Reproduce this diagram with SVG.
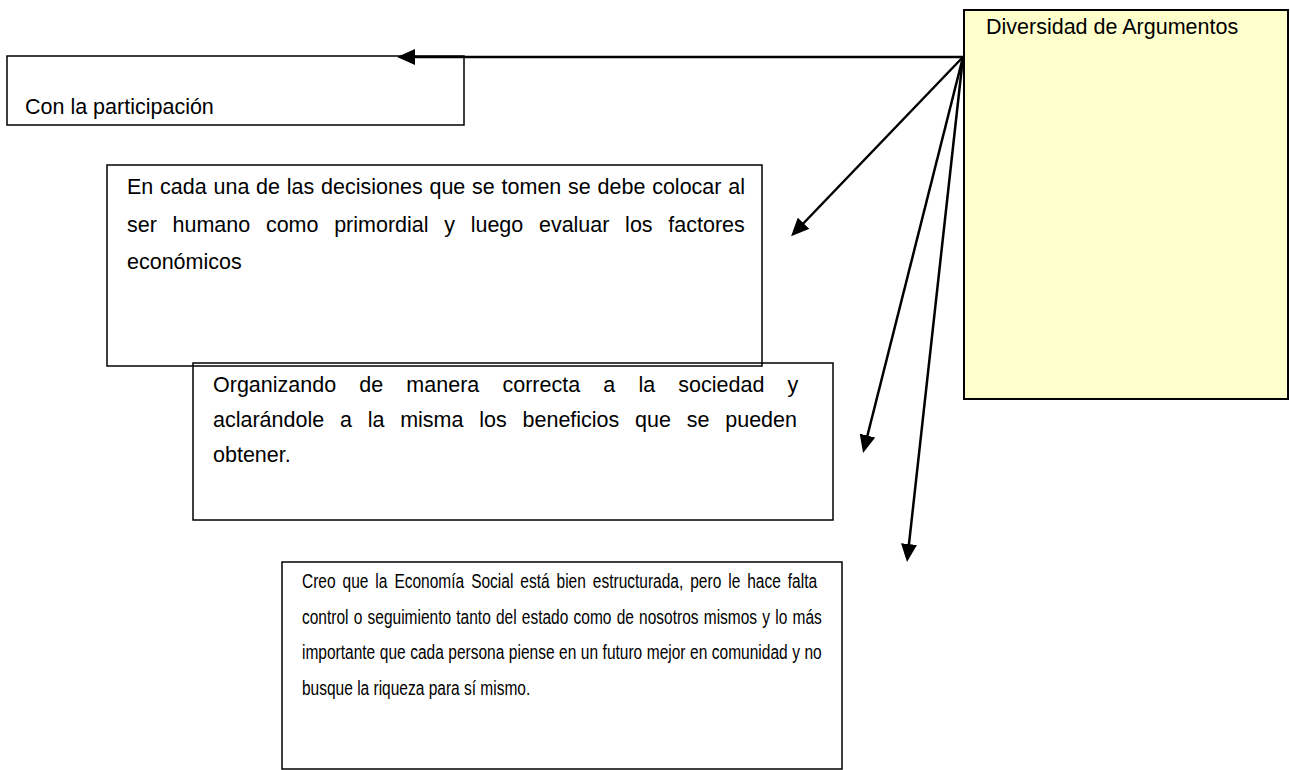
<svg xmlns="http://www.w3.org/2000/svg" width="1290" height="770" viewBox="0 0 1290 770">
<style>
.box{fill:none;stroke:#000;stroke-width:1.5}
.t{font-family:"Liberation Sans",Arial,sans-serif;font-size:21.5px;fill:#000}
.s{font-family:"Liberation Sans",Arial,sans-serif;font-size:19.5px;fill:#000}
.c{fill:none;stroke:#000;stroke-width:2.5}
</style>
<defs>
<marker id="ah" markerUnits="userSpaceOnUse" markerWidth="18" markerHeight="16" refX="8" refY="8" orient="auto" viewBox="0 0 18 16">
<path d="M0,0 L18,8 L0,16 z" fill="#000"/>
</marker>
</defs>
<rect width="1290" height="770" fill="#fff"/>
<g id="n-con">
<rect class="box" x="7" y="56" width="457" height="69"/>
<text class="t" x="25" y="114">Con la participación</text>
</g>
<g id="n-decisiones">
<rect class="box" x="107" y="165" width="655" height="201"/>
<text class="t" x="127" y="194" word-spacing="0.8">En cada una de las decisiones que se tomen se debe colocar al</text>
<text class="t" x="127" y="232" word-spacing="9.7">ser humano como primordial y luego evaluar los factores</text>
<text class="t" x="127" y="269">económicos</text>
</g>
<g id="n-organizando">
<rect class="box" x="193" y="363" width="640" height="157"/>
<text class="t" x="213" y="392" word-spacing="17.2">Organizando de manera correcta a la sociedad y</text>
<text class="t" x="213" y="427" word-spacing="9.8">aclarándole a la misma los beneficios que se pueden</text>
<text class="t" x="213" y="462">obtener.</text>
</g>
<g id="n-creo">
<rect class="box" x="282" y="562" width="560" height="207"/>
<g transform="translate(302,0) scale(0.795,1)">
<text class="s" x="0" y="588" word-spacing="3.34">Creo que la Economía Social está bien estructurada, pero le hace falta</text>
<text class="s" x="0" y="624" word-spacing="1.12">control o seguimiento tanto del estado como de nosotros mismos y lo más</text>
<text class="s" x="0" y="659" word-spacing="0.29">importante que cada persona piense en un futuro mejor en comunidad y no</text>
<text class="s" x="0" y="695">busque la riqueza para sí mismo.</text>
</g>
</g>
<g id="n-diversidad">
<rect x="964" y="10" width="324" height="389" fill="#FFFFCC" stroke="#000" stroke-width="2"/>
<text class="t" x="986" y="34">Diversidad de Argumentos</text>
</g>
<g id="connectors">
<line class="c" x1="963" y1="57" x2="407" y2="57" stroke-width="3" marker-end="url(#ah)"/>
<line class="c" x1="963" y1="57" x2="798" y2="229" marker-end="url(#ah)"/>
<line class="c" x1="963" y1="57" x2="865.5" y2="443.3" marker-end="url(#ah)"/>
<line class="c" x1="963" y1="57" x2="908.1" y2="552" marker-end="url(#ah)"/>
</g>
</svg>
